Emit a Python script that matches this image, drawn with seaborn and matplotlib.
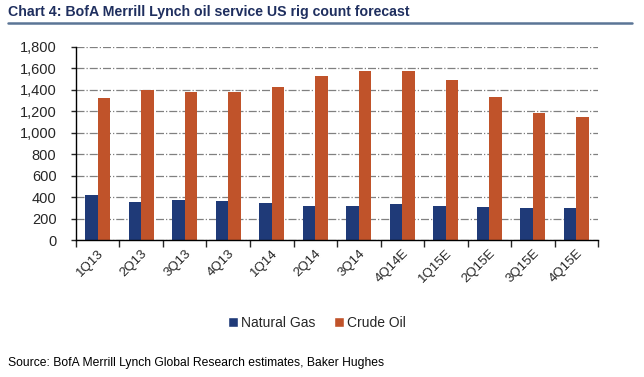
import matplotlib
matplotlib.use("Agg")
import matplotlib.pyplot as plt
import matplotlib.ticker as mticker
from matplotlib.patches import Patch
import numpy as np
import pandas as pd
import seaborn as sns

quarters = ["1Q13", "2Q13", "3Q13", "4Q13", "1Q14", "2Q14", "3Q14",
            "4Q14E", "1Q15E", "2Q15E", "3Q15E", "4Q15E"]
natural_gas = [421, 353, 375, 365, 344, 316, 319, 335, 322, 312, 297, 300]
crude_oil = [1326, 1395, 1379, 1377, 1425, 1528, 1571, 1574, 1488, 1330, 1184, 1144]

df = pd.DataFrame({
    "quarter": quarters * 2,
    "rigs": natural_gas + crude_oil,
    "type": ["Natural Gas"] * len(quarters) + ["Crude Oil"] * len(quarters),
})

sns.set_style("white")
plt.rcParams["font.family"] = ["Liberation Sans", "DejaVu Sans"]

fig = plt.figure(figsize=(6.44, 3.77), dpi=100)
ax = fig.add_axes([0.118, 0.3626, 0.8106, 0.5134])

palette = {"Natural Gas": "#1F3A78", "Crude Oil": "#C0532A"}
sns.barplot(data=df, x="quarter", y="rigs", hue="type", palette=palette,
            width=0.58, gap=0, saturation=1, linewidth=0, ax=ax, legend=False)

ax.set_ylim(0, 1800)
ax.set_xlim(-0.5, len(quarters) - 0.5)
ax.yaxis.set_major_locator(mticker.MultipleLocator(200))
ax.yaxis.set_major_formatter(mticker.StrMethodFormatter("{x:,.0f}"))
ax.grid(axis="y", color="#808080", linestyle="-.", linewidth=0.9)
ax.set_axisbelow(True)

for s in ["top", "right"]:
    ax.spines[s].set_visible(False)
for s in ["left", "bottom"]:
    ax.spines[s].set_color("black")
    ax.spines[s].set_linewidth(1.0)

ax.set_xlabel("")
ax.set_ylabel("")
ax.tick_params(axis="y", which="major", direction="out", length=3.6, width=1,
               left=True, labelsize=10.5, pad=10.5)
ax.tick_params(axis="x", which="major", length=0, labelsize=9.5, pad=5)
ax.set_xticks(np.arange(len(quarters)))
ax.set_xticklabels(quarters, rotation=45, ha="right", rotation_mode="anchor")
ax.set_xticks(np.arange(-0.5, len(quarters)), minor=True)
ax.tick_params(axis="x", which="minor", direction="out", length=5, width=1,
               bottom=True)

# legend
handles = [Patch(facecolor=palette[k], label=k) for k in ["Natural Gas", "Crude Oil"]]
fig.legend(handles=handles, loc="center", bbox_to_anchor=(0.492, 0.143), ncol=2,
           frameon=False, fontsize=10, handlelength=0.75, handleheight=0.75,
           handletextpad=0.2, columnspacing=1.3)

# title with underline
fig.text(0.0125, 0.967, "Chart 4: BofA Merrill Lynch oil service US rig count forecast",
         fontsize=10.2, fontweight="bold", color="#1F2F5F", va="center", ha="left")
fig.add_artist(plt.Line2D([0.0125, 0.982], [0.94, 0.94], color="#5B7596",
                          linewidth=1.8, transform=fig.transFigure))

fig.text(0.0125, 0.037, "Source: BofA Merrill Lynch Global Research estimates, Baker Hughes",
         fontsize=8.7, color="black", va="center", ha="left")

fig.savefig("out.png", dpi=100)
